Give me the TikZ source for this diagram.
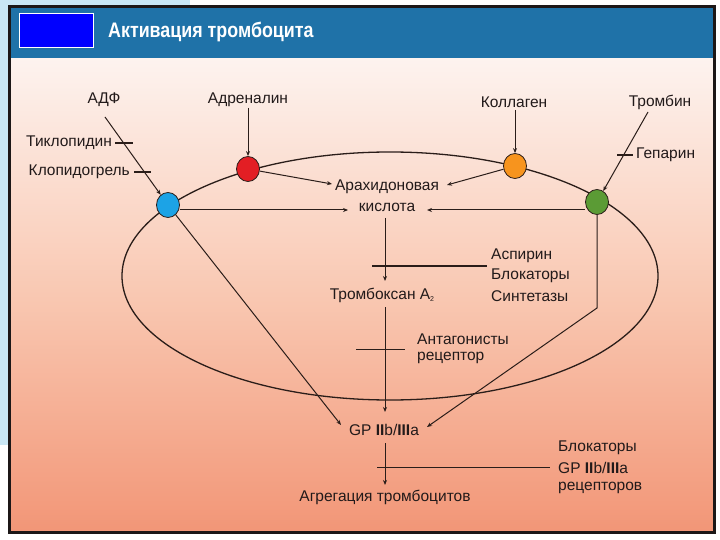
\documentclass[tikz,border=0pt]{standalone}
\usepackage{fontspec}
\setmainfont{Liberation Sans}
\newfontfamily\titlefont{Liberation Sans}
\usetikzlibrary{arrows.meta,shapes.geometric}
\definecolor{barblue}{HTML}{1F72A8}
\definecolor{framec}{HTML}{1C1717}
\definecolor{sqblue}{HTML}{0000FF}
\definecolor{bgtop}{HTML}{FDF3EF}
\definecolor{bgmid}{HTML}{F9C8B2}
\definecolor{bgbot}{HTML}{F29677}
\definecolor{side}{HTML}{C9E7F5}
\definecolor{ln}{HTML}{2A1D19}
\definecolor{txt}{HTML}{221A1A}
\definecolor{cblue}{HTML}{1CA3E6}
\definecolor{cred}{HTML}{E31E24}
\definecolor{corange}{HTML}{F7941E}
\definecolor{cgreen}{HTML}{5B9B35}
\begin{document}
\begin{tikzpicture}[x=1pt,y=-1pt,
  lbl/.style={font=\fontsize{15.5}{18}\selectfont, text=txt, inner sep=0pt},
  con/.style={draw=ln, line width=1pt},
  arr/.style={con, -{Stealth[length=5pt,width=4pt]}},
  inh/.style={draw=ln, line width=1pt},
  tick/.style={draw=ln, line width=2pt},
  dot/.style={ellipse, draw=ln, line width=0.8pt, minimum width=23pt, minimum height=25pt, inner sep=0pt}]
\useasboundingbox (0,0) rectangle (720,540);
% slide background
\fill[white] (0,0) rectangle (720,540);
\fill[side] (0,0) rectangle (9,445);
\fill[side] (0,0) rectangle (190,6);
% frame
\shade[top color=bgtop, bottom color=bgbot, middle color=bgmid] (10,58) rectangle (714,531);
\fill[barblue] (10,7) rectangle (714,58);
\draw[framec, line width=3pt] (9.5,6.5) rectangle (714.5,532.5);
\node[draw=white, line width=1pt, fill=sqblue, minimum width=74pt, minimum height=34pt, inner sep=0pt] (sq) at (56,31) {};
\node[anchor=west, text=white, font=\titlefont\bfseries\fontsize{21}{24}\selectfont, inner sep=0pt] (title) at (108,32) {\scalebox{0.85}[1]{Активация тромбоцита}};
% ellipse
\draw[ln, line width=1.3pt] (390,276) ellipse [x radius=268, y radius=124];
% platelets
\node[dot, fill=cblue] (blue) at (168,205) {};
\node[dot, fill=cred] (red) at (248,169) {};
\node[dot, fill=corange] (orange) at (515,166) {};
\node[dot, fill=cgreen] (green) at (597,202) {};
% labels
\node[lbl] (adf) at (104,100) {АДФ};
\node[lbl] (adr) at (248,100) {Адреналин};
\node[lbl] (kol) at (514,102) {Коллаген};
\node[lbl] (trb) at (660,102) {Тромбин};
\node[lbl, anchor=east] (tik) at (112,143) {Тиклопидин};
\node[lbl, anchor=east] (klo) at (130,172) {Клопидогрель};
\node[lbl, anchor=west] (gep) at (636,155) {Гепарин};
\node[lbl] (ara1) at (387,187) {Арахидоновая};
\node[lbl] (ara2) at (387,207) {кислота};
\node[lbl, anchor=west] (asp1) at (491,256) {Аспирин};
\node[lbl, anchor=west] (asp2) at (491,276) {Блокаторы};
\node[lbl, anchor=west] (asp3) at (491,296) {Синтетазы};
\node[lbl] (tbx) at (382,295) {Тромбоксан A\raisebox{-2.5pt}{\fontsize{7}{7}\selectfont 2}};
\node[lbl, anchor=west] (ant1) at (417,339) {Антагонисты};
\node[lbl, anchor=west] (ant2) at (417,358) {рецептор};
\node[lbl] (gp) at (384,430) {GP \textbf{II}b/\textbf{III}a};
\node[lbl, anchor=west] (blk1) at (558,448) {Блокаторы};
\node[lbl, anchor=west] (blk2) at (558,468) {GP \textbf{II}b/\textbf{III}a};
\node[lbl, anchor=west] (blk3) at (558,488) {рецепторов};
\node[lbl] (agr) at (385,497) {Агрегация тромбоцитов};
% connector ends
\coordinate (adfS) at (105,117);
\coordinate (adrS) at (248,108);
\coordinate (kolS) at (515,110);
\coordinate (trbS) at (648,112);
\coordinate (araL) at (332,184);
\coordinate (araR) at (447,185);
\coordinate (acL) at (348,210);
\coordinate (acR) at (427,210);
\coordinate (v1) at (385,218);
\coordinate (v2) at (385,281);
\coordinate (v3) at (385,307);
\coordinate (v4) at (385,412);
\coordinate (v5) at (385,443);
\coordinate (v6) at (385,485);
\coordinate (gpL) at (341,425);
\coordinate (gpR) at (427,427);
\coordinate (gbend) at (597,308);
% inputs
\draw[arr] (adfS) -- (blue);
\draw[arr] (adrS) -- (red);
\draw[arr] (kolS) -- (orange);
\draw[arr] (trbS) -- (green);
% to arachidonic acid
\draw[arr] (red) -- (araL);
\draw[arr] (orange) -- (araR);
\draw[arr] (blue.east |- acL) -- (acL);
\draw[arr] (green.west |- acR) -- (acR);
% cascade
\draw[arr] (v1) -- (v2);
\draw[arr] (v3) -- (v4);
\draw[arr] (v5) -- (v6);
\draw[arr] (blue) -- (gpL);
\draw[arr] (green.south) -- (gbend) -- (gpR);
% inhibitions
\draw[tick] ([xshift=3pt]tik.east) -- ++(18,0);
\draw[tick] ([xshift=4pt]klo.east) -- ++(17,0);
\draw[tick] ([xshift=-19pt]gep.west) -- ++(16,0);
\draw[inh, line width=1.5pt] (372,266) -- (487,266);
\draw[inh] (356,349) -- (405,349);
\draw[inh] (377,467) -- (550,467);
\end{tikzpicture}
\end{document}
